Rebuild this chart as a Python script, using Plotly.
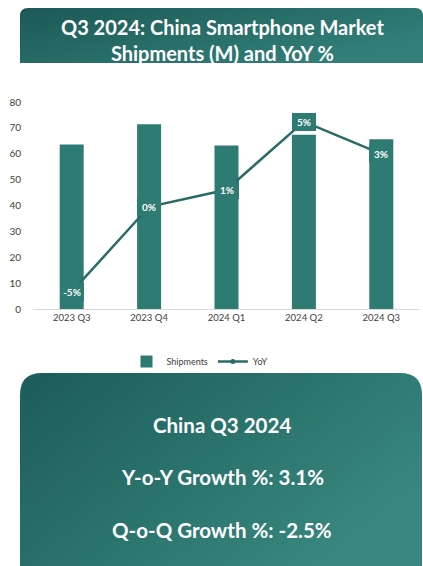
import base64
import plotly.graph_objects as go

# Quarterly China smartphone shipments (millions) and YoY growth (%)
quarters = ["2023 Q3", "2023 Q4", "2024 Q1", "2024 Q2", "2024 Q3"]
shipments = [63.6, 71.4, 63.2, 67.3, 65.6]
yoy_pct = [-5, 0, 1, 5, 3.1]
y_ticks = [0, 10, 20, 30, 40, 50, 60, 70, 80]

title_lines = ["Q3 2024: China Smartphone Market", "Shipments (M) and YoY %"]
card_lines = ["China Q3 2024", "Y-o-Y Growth %: 3.1%", "Q-o-Q Growth %: -2.5%"]

W, H = 423, 566
M_L, M_R, M_T, M_B = 33, 3, 102, 257
PLOT_W = W - M_L - M_R
PLOT_H = H - M_T - M_B
TEAL = "#2e7b74"
LINE = "#2a6b65"
FONT = "Lato, Carlito, Calibri, sans-serif"


def gradient_panel(w, h, r_top, c0, c1, c_mid=None):
    """SVG data URI: rectangle with rounded top corners and a diagonal gradient."""
    stops = f'<stop offset="0" stop-color="{c0}"/>'
    if c_mid:
        stops += f'<stop offset="0.55" stop-color="{c_mid}"/>'
    stops += f'<stop offset="1" stop-color="{c1}"/>'
    path = (f"M0,{h} L0,{r_top} Q0,0 {r_top},0 L{w - r_top},0 "
            f"Q{w},0 {w},{r_top} L{w},{h} Z")
    svg = (f'<svg xmlns="http://www.w3.org/2000/svg" width="{w}" height="{h}" '
           f'viewBox="0 0 {w} {h}"><defs><linearGradient id="g" x1="0" y1="0" '
           f'x2="1" y2="0.6">{stops}</linearGradient></defs>'
           f'<path d="{path}" fill="url(#g)"/></svg>')
    return "data:image/svg+xml;base64," + base64.b64encode(svg.encode()).decode()


# Page pixel -> paper coordinates (paper spans the plot area)
def px_x(x):
    return (x - M_L) / PLOT_W


def px_y(y):
    return (H - M_B - y) / PLOT_H


fig = go.Figure()

fig.add_trace(go.Bar(
    x=quarters, y=shipments, name="Shipments",
    marker=dict(color=TEAL, line=dict(width=0)),
    hoverinfo="skip",
))

fig.add_trace(go.Scatter(
    x=quarters, y=yoy_pct, name="YoY", yaxis="y2",
    mode="lines+markers",
    line=dict(color=LINE, width=2.5),
    marker=dict(color=LINE, size=5),
    hoverinfo="skip",
))

# YoY value labels sitting on the line points
annotations = []
for q, v in zip(quarters, yoy_pct):
    annotations.append(dict(
        x=q, y=v, xref="x", yref="y2",
        text=f"<b>{v:.0f}%</b>", showarrow=False,
        font=dict(family=FONT, size=10, color="white"),
        bgcolor=TEAL, borderwidth=0, borderpad=3,
        width=18, xanchor="center", yanchor="middle",
    ))

# Title banner text
annotations.append(dict(
    x=px_x(222), y=px_y(40), xref="paper", yref="paper",
    text="<b>" + "<br>".join(title_lines) + "</b>", showarrow=False,
    font=dict(family=FONT, size=20, color="white"),
    align="center", xanchor="center", yanchor="middle",
))

# Summary card text
for txt, yc in zip(card_lines, [425, 477, 530]):
    annotations.append(dict(
        x=px_x(222), y=px_y(yc), xref="paper", yref="paper",
        text=f"<b>{txt}</b>", showarrow=False,
        font=dict(family=FONT, size=20.5, color="white"),
        xanchor="center", yanchor="middle",
    ))

images = [
    dict(source=gradient_panel(403, 55, 8, "#1c5955", "#327f79"),
         xref="paper", yref="paper", x=px_x(20), y=px_y(8),
         sizex=403 / PLOT_W, sizey=55 / PLOT_H, sizing="stretch",
         xanchor="left", yanchor="top", layer="below"),
    dict(source=gradient_panel(402, 193, 22, "#1d5c58", "#38877f", "#2b746d"),
         xref="paper", yref="paper", x=px_x(20), y=px_y(373),
         sizex=402 / PLOT_W, sizey=193 / PLOT_H, sizing="stretch",
         xanchor="left", yanchor="top", layer="below"),
]

fig.update_layout(
    width=W, height=H,
    margin=dict(l=M_L, r=M_R, t=M_T, b=M_B, pad=0),
    paper_bgcolor="white", plot_bgcolor="white",
    bargap=0.69,
    font=dict(family=FONT, size=10, color="#404040"),
    xaxis=dict(
        showgrid=False, zeroline=False, showline=True,
        linecolor="#d9d9d9", linewidth=1, ticks="",
        tickfont=dict(size=9.5, color="#404040"),
    ),
    yaxis=dict(
        range=[0, 80], tickvals=y_ticks, showgrid=False, zeroline=False,
        showline=False, ticks="", tickfont=dict(size=10, color="#404040"),
        ticklabelstandoff=11,
    ),
    yaxis2=dict(
        range=[-6.0, 6.15], overlaying="y", side="right",
        visible=False, showgrid=False, zeroline=False,
    ),
    legend=dict(
        orientation="h", x=px_x(200), y=px_y(347), xanchor="center",
        yanchor="top", font=dict(size=9, color="#404040"),
        bgcolor="rgba(0,0,0,0)", itemwidth=30, traceorder="normal",
    ),
    annotations=annotations,
    images=images,
    showlegend=True,
)

fig.write_html("out.html")
